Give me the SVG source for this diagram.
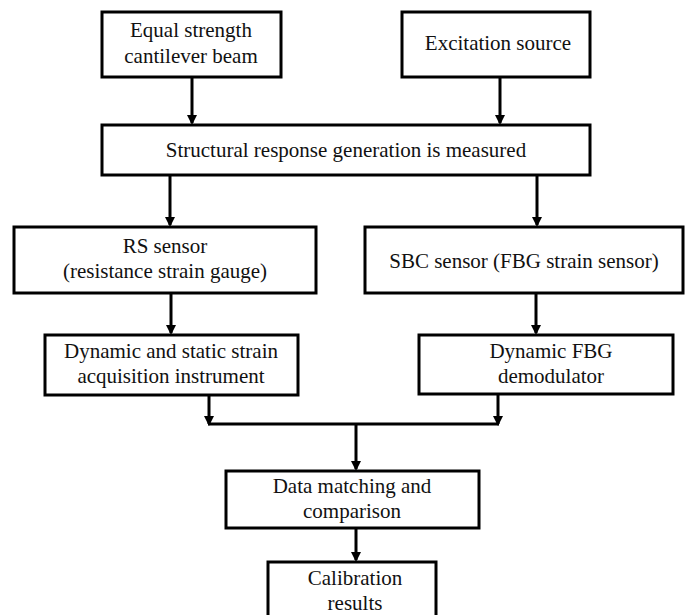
<svg xmlns="http://www.w3.org/2000/svg" width="695" height="615" viewBox="0 0 695 615">
<style>
.box{fill:#fff;stroke:#000;stroke-width:3}
.t{font-family:"Liberation Serif","Times New Roman",serif;font-size:21px;fill:#111;text-anchor:middle}
.c{stroke:#000;stroke-width:3;fill:none}
</style>
<defs>
<marker id="ah" markerWidth="10" markerHeight="10" refX="8" refY="5" orient="auto" markerUnits="userSpaceOnUse" viewBox="0 0 10 10">
<path d="M0,0 L10,5 L0,10 Z" fill="#000"/>
</marker>
</defs>
<rect width="695" height="615" fill="#fff"/>
<g id="connectors">
<path class="c" d="M192,77 V123" marker-end="url(#ah)"/>
<path class="c" d="M500,77 V123" marker-end="url(#ah)"/>
<path class="c" d="M170,175 V225" marker-end="url(#ah)"/>
<path class="c" d="M537,175 V225" marker-end="url(#ah)"/>
<path class="c" d="M171,293 V333" marker-end="url(#ah)"/>
<path class="c" d="M536,293 V333" marker-end="url(#ah)"/>
<path class="c" d="M209,395 V424" marker-end="url(#ah)"/>
<path class="c" d="M498,394 V424" marker-end="url(#ah)"/>
<path class="c" d="M208,424 H499"/>
<path class="c" d="M356,424 V469" marker-end="url(#ah)"/>
<path class="c" d="M356,528 V560" marker-end="url(#ah)"/>
</g>
<g id="n1"><rect class="box" x="102" y="12" width="179" height="65"/><text class="t" x="191" y="37">Equal strength</text><text class="t" x="191" y="63">cantilever beam</text></g>
<g id="n2"><rect class="box" x="402" y="12" width="188" height="65"/><text class="t" x="498" y="50">Excitation source</text></g>
<g id="n3"><rect class="box" x="102" y="125" width="488" height="50"/><text class="t" x="346" y="157">Structural response generation is measured</text></g>
<g id="n4"><rect class="box" x="14" y="227" width="302" height="66"/><text class="t" x="165" y="253">RS sensor</text><text class="t" x="165" y="278">(resistance strain gauge)</text></g>
<g id="n5"><rect class="box" x="365" y="227" width="318" height="66"/><text class="t" x="524" y="268">SBC sensor (FBG strain sensor)</text></g>
<g id="n6"><rect class="box" x="45" y="335" width="253" height="60"/><text class="t" x="171" y="358">Dynamic and static strain</text><text class="t" x="171" y="383">acquisition instrument</text></g>
<g id="n7"><rect class="box" x="419" y="335" width="254" height="59"/><text class="t" x="551" y="358">Dynamic FBG</text><text class="t" x="551" y="383">demodulator</text></g>
<g id="n8"><rect class="box" x="226" y="471" width="253" height="57"/><text class="t" x="352" y="493">Data matching and</text><text class="t" x="352" y="518">comparison</text></g>
<g id="n9"><rect class="box" x="268" y="562" width="168" height="60"/><text class="t" x="355" y="585">Calibration</text><text class="t" x="355" y="610">results</text></g>
</svg>
